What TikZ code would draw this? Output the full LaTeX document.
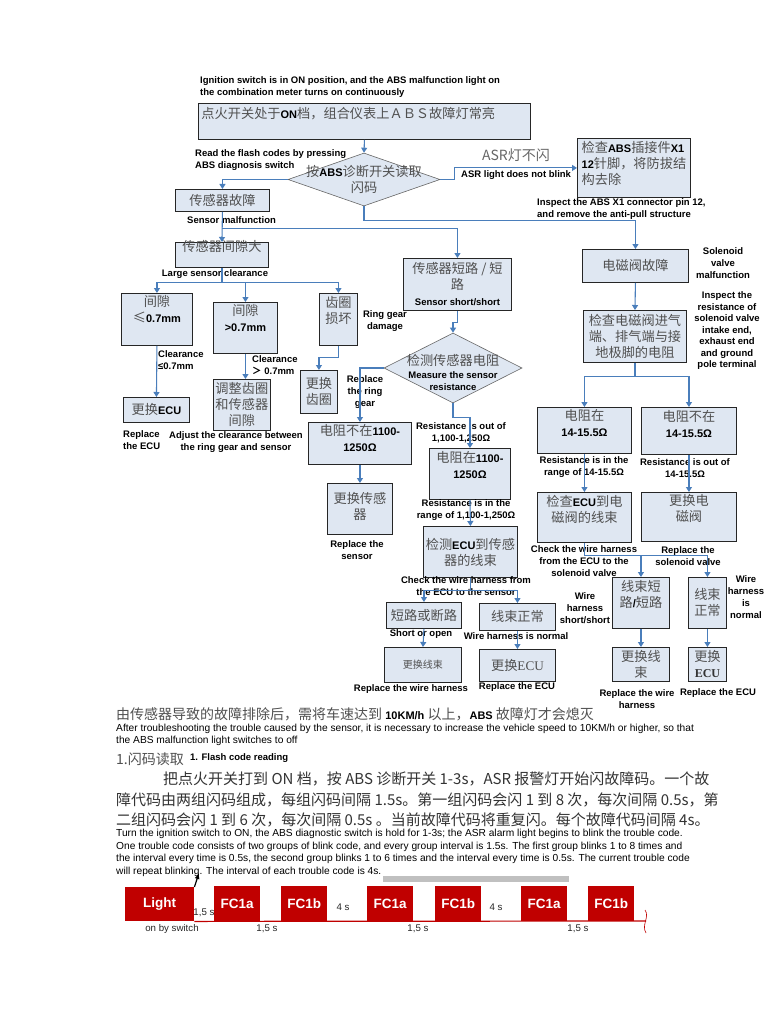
\documentclass[tikz,border=0pt]{standalone}
\usepackage{fontspec}
\usepackage{tikz}
\usetikzlibrary{
	positioning,
	arrows.meta,
	shapes.geometric
}
\setmainfont{Liberation Sans}
\newfontfamily\cjk{Noto Sans CJK SC}
\newfontfamily\ltnserif{Liberation Serif}
\definecolor{boxcolor}{HTML}{DFE7F2}
\definecolor{linkcolor}{HTML}{4A7EBB}
\definecolor{cngrey}{HTML}{505050}
\definecolor{flashcolor}{HTML}{C00000}
\definecolor{barcolor}{HTML}{C0C0C0}
\newcommand{\cnfont}{\cjk\fontsize{13.2}{16}\selectfont}
\newcommand{\ltn}[1]{{\rmfamily\bfseries\fontsize{11}{16}\selectfont\color{black}#1}}
\tikzset{
	boxnode/.style={
		draw=black!85,
		fill=boxcolor,
		line width=0.9pt,
		anchor=north west,
		inner sep=2pt,
		align=center,
		text=cngrey,
		font=\cnfont
	},
	choicenode/.style={
		diamond,
		draw=black!60,
		fill=boxcolor,
		line width=0.6pt,
		inner sep=0pt
	},
	cnnode/.style={
		align=center,
		text=cngrey,
		font=\cnfont,
		inner sep=0pt
	},
	notenode/.style={
		align=center,
		text=black,
		font=\bfseries\fontsize{9.5}{12}\selectfont,
		inner sep=0pt
	},
	paranode/.style={
		align=left,
		text=black,
		font=\fontsize{10.2}{12.5}\selectfont,
		inner sep=0pt
	},
	flashnode/.style={
		fill=flashcolor,
		text=white,
		anchor=north west,
		minimum width=46pt,
		minimum height=35pt,
		inner sep=0pt,
		font=\bfseries\fontsize{13.5}{14}\selectfont
	},
	timenode/.style={
		text=black!85,
		font=\fontsize{9.7}{12}\selectfont,
		inner sep=0pt
	},
	arrow/.style={
		-{Triangle[length=5pt,width=6pt]},
		color=linkcolor,
		line width=1.1pt
	},
	link/.style={
		color=linkcolor,
		line width=1.1pt
	}
}

\begin{document}
\begin{tikzpicture}[x=1pt,y=-1pt]
	\useasboundingbox (0,0) rectangle (768,1024);
	\path[fill=white] (0,0) rectangle (768,1024);
	
	% Nodes
	% Top: ignition and flash code reading
	\node[notenode, anchor=west, align=left] (ignnote) at (200,87)
	{Ignition switch is in ON position, and the ABS malfunction light on\\the combination meter turns on continuously};
	\node[boxnode, minimum width=332pt, minimum height=36pt, text width=326pt, align=left, text depth=18pt] (start) at (198,103)
	{点火开关处于\ltn{ON}档，组合仪表上ＡＢＳ故障灯常亮};
	
	\node[choicenode, minimum width=152pt, minimum height=53pt] (read) at (364,179.5) {};
	\node[cnnode] (readtext) at (read) {按\ltn{ABS}诊断开关读取\\闪码};
	\node[notenode, anchor=west, align=left] (readnote) at (195,160)
	{Read the flash codes by pressing\\ABS diagnosis switch};
	
	% Right of the diamond: ASR light
	\node[cnnode, font=\cjk\fontsize{14}{16}\selectfont, text=black!60] (asrcn) at (516,155) {ASR灯不闪};
	\node[notenode, anchor=west] (asrnote) at (461,175) {ASR light does not blink};
	\node[boxnode, minimum width=113pt, minimum height=59pt, align=left, text depth=11pt] (abs) at (577,138)
	{检查\ltn{ABS}插接件\ltn{X1}\\\ltn{12}针脚，将防拔结\\构去除};
	\node[notenode, anchor=west, align=left] (absnote) at (537,209.5)
	{Inspect the ABS X1 connector pin 12,\\and remove the anti-pull structure};
	
	% Left column: sensor clearance
	\node[boxnode, minimum width=94pt, minimum height=22pt] (sensor) at (175,189) {传感器故障};
	\node[notenode, anchor=west] (sensornote) at (187,220) {Sensor malfunction};
	\node[boxnode, minimum width=93pt, minimum height=25pt, text height=7pt, text depth=14pt] (gap) at (175,242) {传感器间隙大};
	\node[notenode] (gapnote) at (215,274) {Large sensor clearance};
	
	\node[boxnode, minimum width=71pt, minimum height=52pt, text depth=20pt] (le) at (121,293) {间隙\\≤\ltn{0.7mm}};
	\node[boxnode, minimum width=64pt, minimum height=51pt, text depth=19pt] (gt) at (213,302) {间隙\\\ltn{>0.7mm}};
	\node[boxnode, minimum width=38pt, minimum height=52pt, text depth=18pt] (ring) at (319,293) {齿圈\\损坏};
	\node[notenode] (ringnote) at (385,321) {Ring gear\\damage};
	\node[notenode, anchor=west, align=left] (lenote) at (158,360) {Clearance\\≤0.7mm};
	\node[notenode, anchor=west, align=left] (gtnote) at (252,365) {Clearance\\{\cjk ＞} 0.7mm};
	
	\node[boxnode, minimum width=66pt, minimum height=25pt] (ecuA) at (123,397) {更换\ltn{ECU}};
	\node[boxnode, minimum width=56pt, minimum height=51pt] (adjust) at (213,379) {调整齿圈\\和传感器\\间隙};
	\node[boxnode, minimum width=37pt, minimum height=43pt] (newring) at (300,370) {更换\\齿圈};
	\node[notenode, anchor=west, align=left] (ecuAnote) at (123,440) {Replace\\the ECU};
	\node[notenode] (adjustnote) at (236,442) {Adjust the clearance between\\the ring gear and sensor};
	\node[notenode] (newringnote) at (365,392) {Replace\\the ring\\gear};
	
	% Middle column: sensor short
	\node[boxnode, minimum width=108pt, minimum height=52pt] (short) at (403,258)
	{传感器短路 / 短\\路\\{\rmfamily\bfseries\fontsize{9.5}{16}\selectfont\color{black}Sensor short/short}};
	\node[choicenode, minimum width=138pt, minimum height=70pt] (meas) at (453,368) {};
	\node[cnnode] (meascn) at (453,360) {检测传感器电阻};
	\node[notenode] (measnote) at (453,381.5) {Measure the sensor\\resistance};
	
	\node[boxnode, minimum width=103pt, minimum height=42pt, text depth=10pt] (notin) at (308,422) {电阻不在\ltn{1100-}\\\ltn{1250Ω}};
	\node[notenode] (notinnote) at (461,433) {Resistance is out of\\1,100-1,250Ω};
	\node[boxnode, minimum width=81pt, minimum height=51pt, text depth=17pt] (inr) at (429,448) {电阻在\ltn{1100-}\\\ltn{1250Ω}};
	\node[boxnode, minimum width=65pt, minimum height=51pt, text depth=6pt] (newsensor) at (327,483) {更换传感\\器};
	\node[notenode] (newsensornote) at (357,550) {Replace the\\sensor};
	\node[notenode] (inrnote) at (466,510) {Resistance is in the\\range of 1,100-1,250Ω};
	
	\node[boxnode, minimum width=94pt, minimum height=51pt] (wirecheck) at (423,526) {检测\ltn{ECU}到传感\\器的线束};
	\node[notenode] (wirechecknote) at (466,586) {Check the wire harness from\\the ECU to the sensor};
	\node[boxnode, minimum width=75pt, minimum height=26pt] (shortopen) at (386,602) {短路或断路};
	\node[boxnode, minimum width=76pt, minimum height=27pt] (normal) at (479,603) {线束正常};
	\node[notenode] (shortopennote) at (421,634) {Short or open};
	\node[notenode] (normalnote) at (516,636) {Wire harness is normal};
	\node[boxnode, minimum width=77pt, minimum height=35pt, font=\cjk\fontsize{10}{12}\selectfont] (newwire) at (384,647) {更换线束};
	\node[boxnode, minimum width=76pt, minimum height=32pt] (newecu) at (479,649) {更换{\ltnserif ECU}};
	\node[notenode] (newwirenote) at (411,689) {Replace the wire harness};
	\node[notenode] (newecunote) at (517,687) {Replace the ECU};
	
	% Right column: solenoid valve
	\node[boxnode, minimum width=106pt, minimum height=33pt] (valve) at (582,249) {电磁阀故障};
	\node[notenode] (valvenote) at (723,263) {Solenoid\\valve\\malfunction};
	\node[boxnode, minimum width=103pt, minimum height=52pt] (vcheck) at (583,310) {检查电磁阀进气\\端、排气端与接\\地极脚的电阻};
	\node[notenode, font=\bfseries\fontsize{9.5}{11.5}\selectfont] (vchecknote) at (727,331)
	{Inspect the\\resistance of\\solenoid valve\\intake end,\\exhaust end\\and ground\\pole terminal};
	
	\node[boxnode, minimum width=94pt, minimum height=46pt, text depth=14pt] (vin) at (537,407) {电阻在\\\ltn{14-15.5Ω}};
	\node[boxnode, minimum width=95pt, minimum height=47pt, text depth=14pt] (vout) at (641,407) {电阻不在\\\ltn{14-15.5Ω}};
	\node[notenode] (vinnote) at (584,467) {Resistance is in the\\range of 14-15.5Ω};
	\node[notenode] (voutnote) at (685,468) {Resistance is out of\\14-15.5Ω};
	
	\node[boxnode, minimum width=94pt, minimum height=50pt, text depth=18pt] (vwire) at (537,492) {检查\ltn{ECU}到电\\磁阀的线束};
	\node[boxnode, minimum width=95pt, minimum height=49pt, text depth=18pt] (newvalve) at (641,492) {更换电\\磁阀};
	\node[notenode] (vwirenote) at (584,561) {Check the wire harness\\from the ECU to the\\solenoid valve};
	\node[notenode] (newvalvenote) at (688,556) {Replace the\\solenoid valve};
	
	\node[boxnode, minimum width=57pt, minimum height=51pt, text depth=19pt] (vshort) at (612,577) {线束短\\路\ltn{/}短路};
	\node[boxnode, minimum width=38pt, minimum height=51pt] (vok) at (688,577) {线束\\正常};
	\node[notenode] (vshortnote) at (585,608) {Wire\\harness\\short/short};
	\node[notenode] (voknote) at (746,597) {Wire\\harness\\is\\normal};
	\node[boxnode, minimum width=57pt, minimum height=34pt] (vnewwire) at (612,647) {更换线\\束};
	\node[boxnode, minimum width=38pt, minimum height=34pt] (vnewecu) at (688,647)
	{更换\\{\ltnserif\bfseries\fontsize{12}{16}\selectfont\color{black!80}ECU}};
	\node[notenode] (vnewwirenote) at (637,699) {Replace the wire\\harness};
	\node[notenode] (vnewecunote) at (718,693) {Replace the ECU};
	
	% Bottom: notes on flash codes
	\node[cnnode, anchor=west, align=left, font=\cjk\fontsize{14}{16}\selectfont] (clearcn) at (116,714)
	{由传感器导致的故障排除后，需将车速达到 \ltn{10KM/h} 以上，\ltn{ABS} 故障灯才会熄灭};
	\node[paranode, anchor=west] (clearen) at (116,735)
	{After troubleshooting the trouble caused by the sensor, it is necessary to increase the vehicle speed to 10KM/h or higher, so that\\the ABS malfunction light switches to off};
	\node[cnnode, anchor=west, font=\cjk\fontsize{14}{16}\selectfont] (flashcn) at (116,759) {1.闪码读取};
	\node[notenode, anchor=west] (flashen) at (190,758) {1. Flash code reading};
	\node[cnnode, anchor=west, align=left, font=\cjk\fontsize{15}{20.5}\selectfont, text=black!80] (flashcnpar) at (116,799.5)
	{\hspace*{47pt}把点火开关打到 ON 档，按 ABS 诊断开关 1-3s，ASR 报警灯开始闪故障码。一个故\\障代码由两组闪码组成，每组闪码间隔 1.5s。第一组闪码会闪 1 到 8 次，每次间隔 0.5s，第\\二组闪码会闪 1 到 6 次，每次间隔 0.5s 。当前故障代码将重复闪。每个故障代码间隔 4s。};
	\node[paranode, anchor=west] (flashenpar) at (116,852.75)
	{Turn the ignition switch to ON, the ABS diagnostic switch is hold for 1-3s; the ASR alarm light begins to blink the trouble code.\\One trouble code consists of two groups of blink code, and every group interval is 1.5s. The first group blinks 1 to 8 times and\\the interval every time is 0.5s, the second group blinks 1 to 6 times and the interval every time is 0.5s. The current trouble code\\will repeat blinking. The interval of each trouble code is 4s.};
	
	% Flash code timing
	\fill[barcolor] (383,876) rectangle (569,882);
	\coordinate (blinktip) at (199,873);
	\coordinate (tlend) at (646,921);
	\node[flashnode, minimum width=69pt, minimum height=34pt] (light) at (125,887) {Light};
	\node[flashnode] (fcA1) at (214,886) {FC1a};
	\node[flashnode] (fcB1) at (281,886) {FC1b};
	\node[flashnode] (fcA2) at (367,886) {FC1a};
	\node[flashnode] (fcB2) at (435,886) {FC1b};
	\node[flashnode] (fcA3) at (521,886) {FC1a};
	\node[flashnode] (fcB3) at (588,886) {FC1b};
	\node[timenode] (onswitch) at (172,929) {on by switch};
	\node[timenode] (gapA) at (204,913) {1,5 s};
	\node[timenode] (gapB) at (267,929) {1,5 s};
	\node[timenode] (gapC) at (418,929) {1,5 s};
	\node[timenode] (gapD) at (578,929) {1,5 s};
	\node[timenode] (pauseA) at (343,907) {4 s};
	\node[timenode] (pauseB) at (496,907) {4 s};
	
	% Arrows
	% Start to flash code reading
	\draw[arrow] (start.south) -- (read.north);
	\draw[arrow] (read.west) -| (sensor.north);
	\draw[arrow] (read.east) -- ++(14,0) |- (abs.west);
	\draw[arrow] (read.south) -- ++(0,14) -| (valve.north);
	
	% Sensor malfunction
	\draw[arrow] (sensor.south) -- (gap.north);
	\draw[arrow] (sensor.south) ++(0,17) -| (short.north);
	\draw[link] (gap.south) -- ++(0,15) coordinate (gapfork);
	\draw[arrow] (gapfork) -| (le.north);
	\draw[arrow] (gapfork) -| (gt.north);
	\draw[arrow] (gapfork) -| (ring.north);
	\draw[arrow] (le.south) -- (ecuA.north);
	\draw[arrow] (gt.south) -- (gt.south |- adjust.north);
	\draw[arrow] (ring.south) -- ++(0,12) -| (newring.north);
	
	% Sensor short
	\draw[arrow] (short.south) -- ++(0,12) -| (meas.north);
	\draw[arrow] (meas.west) -| (notin.north);
	\draw[arrow] (meas.south) -- ++(0,14) -| (inr.north);
	\draw[arrow] (notin.south) -- (newsensor.north);
	\draw[arrow] (inr.south) -- (wirecheck.north);
	\draw[link] (wirecheck.south) -- ++(0,13) coordinate (wirefork);
	\draw[arrow] (wirefork) -| (shortopen.north);
	\draw[arrow] (wirefork) -| (normal.north);
	\draw[arrow] (shortopen.south) -- (newwire.north);
	\draw[arrow] (normal.south) -- (newecu.north);
	
	% Solenoid valve
	\draw[arrow] (valve.south) -- (vcheck.north);
	\draw[link] (vcheck.south) -- ++(0,14) coordinate (vfork);
	\draw[arrow] (vfork) -| (vin.north);
	\draw[arrow] (vfork) -| (vout.north);
	\draw[arrow] (vin.south) -- (vwire.north);
	\draw[arrow] (vout.south) -- (newvalve.north);
	\draw[link] (vwire.south) -- ++(0,13) coordinate (vwirefork);
	\draw[arrow] (vwirefork) -| (vshort.north);
	\draw[arrow] (vwirefork) -| (vok.north);
	\draw[arrow] (vshort.south) -- (vnewwire.north);
	\draw[arrow] (vok.south) -- (vnewecu.north);
	
	% Timing line
	\draw[flashcolor, line width=1.2pt] (light.south east) -- (tlend);
	\draw[flashcolor, line width=0.6pt] (645,910) .. controls (650,917) and (641,925) .. (646,933);
	\draw[-{Latex[length=6pt,width=5pt]}, line width=1.2pt] (light.north east) -- (blinktip);
	
\end{tikzpicture}
\end{document}
